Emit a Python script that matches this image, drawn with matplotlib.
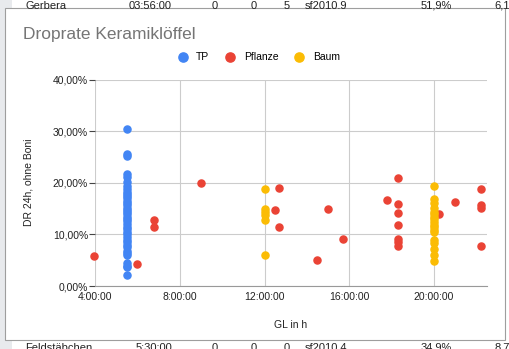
import matplotlib
matplotlib.use('Agg')
import matplotlib.pyplot as plt
from matplotlib.patches import Rectangle
from matplotlib.ticker import FuncFormatter, MultipleLocator

plt.rcParams['font.family'] = ['Liberation Sans', 'DejaVu Sans']

# GL in hours, DR in percent
tp_x = [5.5] * 39
tp_y = [30.5, 25.5, 25.2, 21.7, 21.2, 20.2, 19.3, 18.8, 18.3, 17.8, 17.4, 17.0,
        16.5, 16.1, 15.7, 15.2, 14.8, 14.3, 13.9, 13.4, 13.0, 12.5, 12.0, 11.5,
        11.0, 10.5, 10.0, 9.5, 9.0, 8.5, 8.0, 7.5, 6.8, 6.3, 6.0, 4.4, 3.9, 3.6, 2.1]

pflanze_x = [3.95, 6.0, 6.78, 6.78, 9.0, 12.7, 12.5, 12.7, 15.0, 14.5, 15.7,
             17.77, 18.32, 18.32, 18.32, 18.32, 18.32, 18.32, 18.32,
             20.23, 20.97, 22.2, 22.2, 22.2, 22.2]
pflanze_y = [5.9, 4.3, 12.8, 11.4, 20.0, 18.9, 14.7, 11.4, 14.9, 5.0, 9.2,
             16.6, 21.0, 15.8, 14.1, 11.8, 9.2, 8.6, 7.8,
             13.9, 16.3, 18.7, 15.7, 15.1, 7.8]

baum_x = [12.0] * 6 + [20.0] * 18
baum_y = [18.8, 14.9, 14.3, 13.7, 12.8, 6.0,
          19.3, 16.9, 16.0, 15.1, 14.4, 13.9, 13.4, 12.9, 12.4, 11.9, 11.4,
          10.9, 10.5, 9.0, 8.4, 7.1, 6.0, 4.8]

top_row = ['Gerbera', '03:56:00', '0', '0', '5', 'sf2010.9', '51,9%', '6,1%']
bottom_row = ['Feldstäbchen', '5:30:00', '0', '0', '0', 'sf2010.4', '34,9%', '8,7%']


def hms(v, pos):
    h = int(round(v * 3600))
    return f'{h // 3600}:{(h % 3600) // 60:02d}:{h % 60:02d}'


fig = plt.figure(figsize=(5.09, 3.49), dpi=100)

# spreadsheet behind the chart
cols_x = [25, 172, 218, 257, 290, 305, 452, 520]
cols_ha = ['left', 'right', 'right', 'right', 'right', 'left', 'right', 'right']
for txt, x, ha in zip(top_row, cols_x, cols_ha):
    fig.text(x / 509, 1 - 6 / 349, txt, ha=ha, va='center', fontsize=8, color='#222222')
for txt, x, ha in zip(bottom_row, cols_x, cols_ha):
    fig.text(x / 509, 1 - 348 / 349, txt, ha=ha, va='center', fontsize=8, color='#222222')
fig.patches.append(Rectangle((0, 0), 12 / 509, 1, transform=fig.transFigure,
                             facecolor='#e8eaed', edgecolor='none', zorder=0))
fig.patches.append(Rectangle((5 / 509, 1 - 340 / 349), 500 / 509, 332 / 349,
                             transform=fig.transFigure, facecolor='white',
                             edgecolor='#9e9e9e', lw=0.8, zorder=1))

ax = fig.add_axes([95 / 509, 1 - 286 / 349, 392 / 509, 206.5 / 349], zorder=2)
ax.set_facecolor('white')

ax.scatter(tp_x, [v / 100 for v in tp_y], s=26, color='#4285f4', label='TP', zorder=3, clip_on=False)
ax.scatter(pflanze_x, [v / 100 for v in pflanze_y], s=26, color='#ea4335', label='Pflanze', zorder=3, clip_on=False)
ax.scatter(baum_x, [v / 100 for v in baum_y], s=26, color='#fbbc04', label='Baum', zorder=3, clip_on=False)

ax.set_xlim(4, 22.5)
ax.set_ylim(0, 0.4)
ax.xaxis.set_major_locator(MultipleLocator(4))
ax.yaxis.set_major_locator(MultipleLocator(0.1))
ax.xaxis.set_major_formatter(FuncFormatter(hms))
ax.yaxis.set_major_formatter(FuncFormatter(lambda v, p: f'{v * 100:.2f}%'.replace('.', ',')))
ax.grid(True, color='#cccccc', lw=0.8)
ax.set_axisbelow(True)
for s in ['top', 'right', 'left']:
    ax.spines[s].set_visible(False)
ax.spines['bottom'].set_color('#999999')
ax.tick_params(axis='both', labelsize=7.5, colors='#444444', labelcolor='#222222', length=4, width=0.8, pad=1)
ax.tick_params(axis='x', length=0, pad=4)

ax.set_xlabel('GL in h', fontsize=7.5, color='#222222', labelpad=13)
ax.set_ylabel('DR 24h, ohne Boni', fontsize=7.5, color='#222222', labelpad=14)

fig.text(23 / 509, 1 - 34 / 349, 'Droprate Keramiklöffel', fontsize=12.5, color='#757575',
         ha='left', va='center', zorder=3)
fig.legend(loc='center', bbox_to_anchor=(256 / 509, 1 - 57 / 349), ncol=3, frameon=False,
           fontsize=7.5, handletextpad=0.3, columnspacing=1.0, markerscale=1.3)

fig.savefig('out.png', dpi=100)
